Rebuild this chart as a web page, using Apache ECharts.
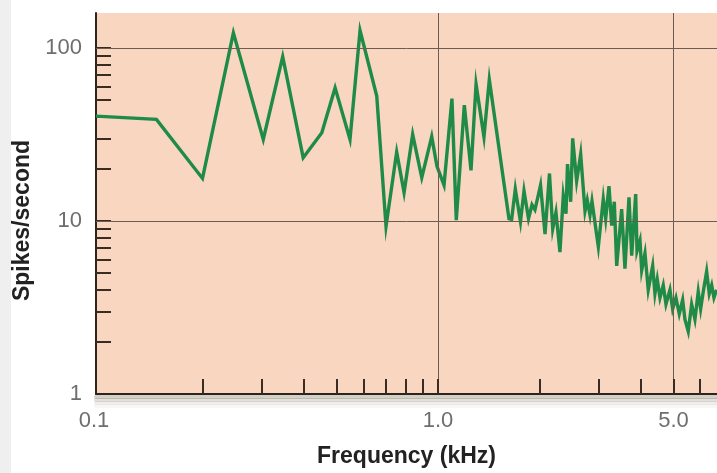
<!DOCTYPE html>
<html>
<head>
<meta charset="utf-8">
<script src="https://cdn.jsdelivr.net/npm/echarts@6.0.0/dist/echarts.min.js"></script>
<style>
  html, body { margin: 0; padding: 0; background: #fff; }
  #chart { width: 717px; height: 473px; background: linear-gradient(to right, #efefef 11px, #ffffff 11px); }
</style>
</head>
<body>
<div id="chart"></div>
<script>
// ---- data ----
const frequencyKHz = [0.0966, 0.146, 0.2, 0.247, 0.303, 0.346, 0.398, 0.452, 0.495, 0.548, 0.587, 0.658, 0.701, 0.754, 0.793, 0.841, 0.895, 0.958, 0.993, 1.042, 1.100, 1.133, 1.197, 1.253, 1.297, 1.369, 1.420, 1.624, 1.654, 1.696, 1.757, 1.800, 1.856, 1.901, 1.940, 2.015, 2.078, 2.142, 2.190, 2.239, 2.301, 2.354, 2.398, 2.423, 2.476, 2.510, 2.579, 2.651, 2.731, 2.773, 2.825, 2.864, 2.991, 3.094, 3.145, 3.217, 3.277, 3.336, 3.391, 3.508, 3.588, 3.688, 3.757, 3.861, 3.896, 3.976, 4.023, 4.114, 4.207, 4.336, 4.404, 4.474, 4.558, 4.661, 4.749, 4.879, 4.970, 5.084, 5.200, 5.322, 5.406, 5.529, 5.659, 5.788, 5.920, 6.018, 6.126, 6.270, 6.383, 6.490, 6.592, 6.714];
const spikesPerSecond = [40.3, 38.6, 17.6, 122, 29.6, 89, 23.2, 32.3, 58.7, 29.6, 126, 52.6, 9.3, 25.0, 14.6, 31.6, 17.8, 30.7, 20.7, 16.1, 50.9, 10.1, 46.7, 19.6, 61.7, 30.6, 65.5, 10.3, 10.2, 15.3, 9.9, 14.9, 10.3, 12.4, 11.6, 16.1, 8.4, 18.8, 9.0, 11.2, 6.6, 14.0, 11.0, 21.3, 12.9, 30.0, 17.0, 24.3, 11.4, 13.2, 10.8, 13.0, 7.1, 13.4, 10.3, 15.9, 9.4, 12.9, 5.5, 11.7, 5.3, 13.7, 6.3, 14.3, 6.7, 7.7, 5.2, 6.5, 4.0, 5.5, 3.8, 4.6, 3.6, 4.25, 3.3, 4.0, 3.1, 3.6, 2.9, 3.5, 2.7, 2.3, 3.3, 2.7, 3.9, 3.1, 3.9, 5.1, 3.8, 4.25, 3.6, 4.0];

// axis ranges and tick values
const xRange = [0.0966, 6.73];
const yRange = [1, 159];
const xTickValues = [0.2, 0.3, 0.4, 0.5, 0.6, 0.7, 0.8, 0.9, 1, 2, 3, 4, 5, 6];
const xLabelValues = [0.1, 1, 5];
const yTickValues = [2, 3, 4, 5, 6, 7, 8, 9, 10, 20, 30, 40, 50, 60, 70, 80, 90, 100];
const yLabelValues = [1, 10, 100];
const xGridValues = [1, 5];
const yGridValues = [10, 100];

const xAxisTitle = 'Frequency (kHz)';
const yAxisTitle = 'Spikes/second';

// ---- chart ----
const chart = echarts.init(document.getElementById('chart'), null, { renderer: 'canvas' });

const labelFont = { color: '#6e6e6e', fontSize: 22, fontFamily: 'Liberation Sans' };
const titleFont = { color: '#222222', fontSize: 23, fontWeight: 'bold', fontFamily: 'Liberation Sans' };
const tickColor = '#3a2c22';
const gridColor = '#6e5c50';

const lineData = frequencyKHz.map((f, i) => [f, spikesPerSecond[i]]);
const gridMarks = xGridValues.map(v => ({ xAxis: v })).concat(yGridValues.map(v => ({ yAxis: v })));

function shadowAxis(offset, width, alpha) {
  return {
    type: 'log', logBase: 10,
    min: xRange[0], max: xRange[1],
    position: 'bottom', offset: offset,
    z: 0,
    axisLine: { show: true, onZero: false, lineStyle: { width: width, color: 'rgba(105, 100, 70, ' + alpha + ')' } },
    axisTick: { show: false },
    axisLabel: { show: false },
    splitLine: { show: false }
  };
}

chart.setOption({
  animation: false,
  backgroundColor: 'transparent',
  grid: {
    left: 96, right: 0, top: 13, bottom: 77,
    show: true,
    backgroundColor: '#f9d6c0',
    borderWidth: 0
  },
  xAxis: [
    {
      type: 'log', logBase: 10,
      min: xRange[0], max: xRange[1],
      name: xAxisTitle, nameLocation: 'middle', nameGap: 51,
      nameTextStyle: titleFont,
      z: 5,
      axisLine: { show: true, onZero: false, lineStyle: { color: '#2e241c', width: 2 } },
      axisTick: { show: true, inside: true, length: 15, customValues: xTickValues, lineStyle: { color: tickColor, width: 2 } },
      axisLabel: {
        show: true, margin: 16, customValues: xLabelValues,
        ...labelFont,
        formatter: v => (v < 0.5 ? '{a|' + v.toFixed(1) + '}' : v.toFixed(1)),
        rich: { a: { ...labelFont, padding: [0, 14, 0, 0] } }
      },
      splitLine: { show: false },
      minorTick: { show: false },
      minorSplitLine: { show: false }
    },
    // soft drop shadow under the plot's bottom edge (stacked translucent bands)
    shadowAxis(3, 4, 0.30),
    shadowAxis(6, 4, 0.20),
    shadowAxis(9, 4, 0.11),
    shadowAxis(12, 4, 0.05)
  ],
  yAxis: {
    type: 'log', logBase: 10,
    min: yRange[0], max: yRange[1],
    name: yAxisTitle, nameLocation: 'middle', nameGap: 56,
    nameTextStyle: { ...titleFont, padding: [0, 34, 0, 0] },
    axisLine: { show: true, onZero: false, lineStyle: { color: '#2e241c', width: 2 } },
    axisTick: { show: true, inside: true, length: 15, customValues: yTickValues, lineStyle: { color: tickColor, width: 2 } },
    axisLabel: { show: true, margin: 14, customValues: yLabelValues, ...labelFont, formatter: v => String(Math.round(v)) },
    splitLine: { show: false },
    minorTick: { show: false },
    minorSplitLine: { show: false }
  },
  series: [
    {
      type: 'line',
      z: 1,
      data: [],
      silent: true,
      markLine: {
        silent: true,
        symbol: 'none',
        label: { show: false },
        lineStyle: { color: gridColor, width: 1, type: 'solid' },
        data: gridMarks
      }
    },
    {
      type: 'line',
      z: 3,
      data: lineData,
      showSymbol: false,
      symbol: 'none',
      smooth: false,
      lineStyle: { color: '#1f8b48', width: 3.4, join: 'miter' },
      clip: true
    }
  ]
});
</script>
</body>
</html>
